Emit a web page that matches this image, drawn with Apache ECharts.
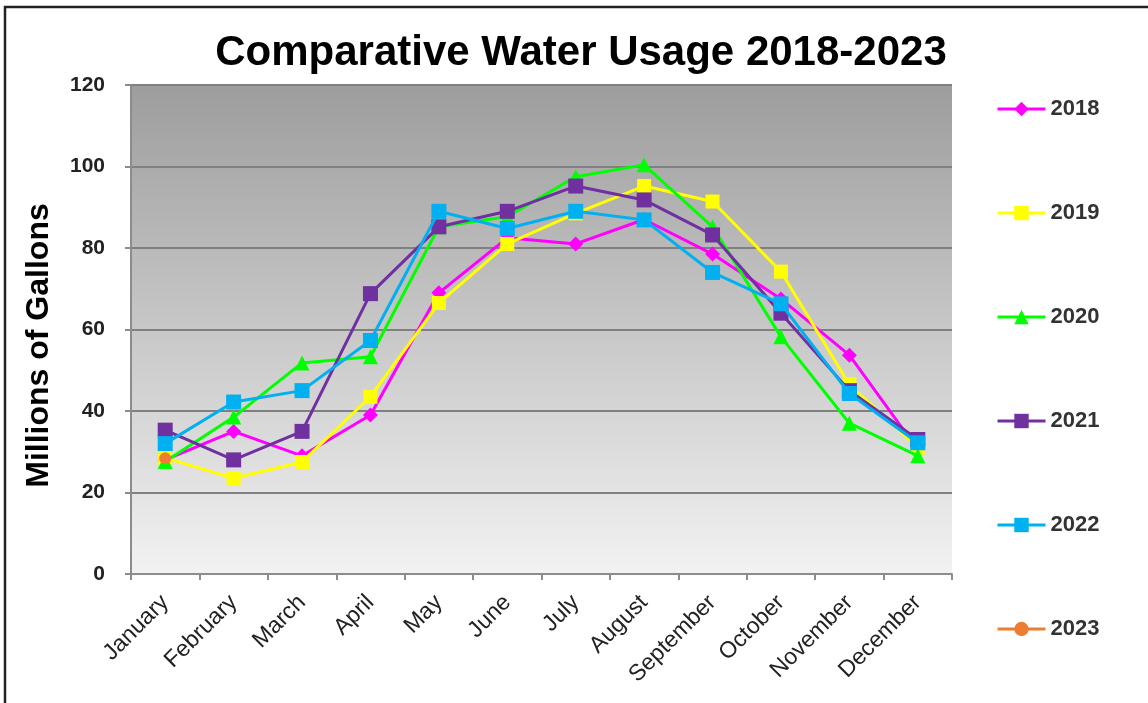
<!DOCTYPE html>
<html style="height: 100%">
<head>
<meta charset="utf-8">
<script src="https://cdn.jsdelivr.net/npm/echarts@6/dist/echarts.min.js"></script>
</head>
<body style="height: 100%; margin: 0; background: #fff">
<div id="container" style="width: 1148px; height: 703px"></div>
<script>
// months on the x axis
var months = ['January', 'February', 'March', 'April', 'May', 'June',
              'July', 'August', 'September', 'October', 'November', 'December'];

// millions of gallons
var y2018 = [28, 35, 29, 39, 69, 82.5, 81, 87, 78.5, 67.5, 53.7, 30.5];
var y2019 = [28.5, 23.5, 27.5, 43.5, 66.5, 81, 88.5, 95.2, 91.4, 74.2, 46.5, 31];
var y2020 = [27.6, 38.5, 51.8, 53.3, 85.2, 87.7, 97.5, 100.4, 85.2, 58.2, 37, 29];
var y2021 = [35.3, 28, 35, 68.8, 85.2, 89, 95.2, 91.8, 83.2, 64, 45, 33];
var y2022 = [32, 42.2, 45, 57.3, 89, 84.8, 89, 86.9, 74, 66.3, 44.3, 32.2];
var y2023 = [28.4];

var years = ['2018', '2019', '2020', '2021', '2022', '2023'];
var yearData = [y2018, y2019, y2020, y2021, y2022, y2023];
var yearColors = ['#ff00ff', '#ffff00', '#00ff00', '#7030a0', '#00b0f0', '#ed7d31'];
var yearSymbols = ['diamond', 'rect', 'triangle', 'rect', 'rect', 'circle'];
var symbolSizes = [15, 14, 15, 15, 15, 12];

var yTicks = [0, 20, 40, 60, 80, 100, 120];

var dom = document.getElementById('container');
var myChart = echarts.init(dom);

var series = years.map(function (y, i) {
    return {
        name: y,
        type: 'line',
        data: yearData[i],
        symbol: yearSymbols[i],
        symbolSize: symbolSizes[i],
        showAllSymbol: true,
        animation: false,
        z: 3 + i,
        lineStyle: { color: yearColors[i], width: 3 },
        itemStyle: { color: yearColors[i] }
    };
});

var option = {
    backgroundColor: '#ffffff',
    animation: false,
    title: {
        text: 'Comparative Water Usage 2018-2023',
        left: 576,
        textAlign: 'center',
        top: 27,
        textStyle: {
            fontFamily: 'Liberation Sans',
            fontWeight: 'bold',
            fontSize: 42,
            color: '#000'
        }
    },
    graphic: [{
        type: 'rect',
        shape: { x: 5, y: 7, width: 1200, height: 800 },
        style: { fill: 'none', stroke: '#222', lineWidth: 2.5 },
        silent: true
    }],
    legend: {
        orient: 'vertical',
        left: 991,
        top: 93,
        itemWidth: 48,
        itemHeight: 18,
        itemGap: 82,
        data: years,
        lineStyle: { width: 3 },
        textStyle: {
            fontFamily: 'Liberation Sans',
            fontWeight: 'bold',
            fontSize: 22,
            color: '#333'
        }
    },
    grid: {
        left: 131,
        right: 196,
        top: 85,
        bottom: 129,
        show: true,
        borderWidth: 0,
        backgroundColor: new echarts.graphic.LinearGradient(0, 0, 0, 1, [
            { offset: 0, color: '#9d9d9d' },
            { offset: 1, color: '#f2f2f2' }
        ])
    },
    xAxis: {
        type: 'category',
        data: months,
        boundaryGap: true,
        axisLine: { lineStyle: { color: '#8c8c8c', width: 2 } },
        axisTick: { show: true, length: 6, lineStyle: { color: '#8c8c8c', width: 2 } },
        axisLabel: {
            rotate: 45,
            margin: 25,
            interval: 0,
            fontFamily: 'Liberation Sans',
            fontSize: 23,
            color: '#222'
        }
    },
    yAxis: {
        type: 'value',
        min: yTicks[0],
        max: yTicks[yTicks.length - 1],
        interval: 20,
        name: 'Millions of Gallons',
        nameLocation: 'middle',
        nameGap: 76,
        nameTextStyle: {
            fontFamily: 'Liberation Sans',
            fontWeight: 'bold',
            fontSize: 32,
            color: '#000',
            padding: [0, 32, 0, 0]
        },
        axisLine: { show: true, lineStyle: { color: '#8c8c8c', width: 2 } },
        axisTick: { show: true, length: 6, lineStyle: { color: '#8c8c8c', width: 2 } },
        axisLabel: {
            margin: 26,
            fontFamily: 'Liberation Sans',
            fontWeight: 'bold',
            fontSize: 21,
            color: '#222'
        },
        splitLine: { lineStyle: { color: '#808080', width: 2 } }
    },
    series: series
};

if (option && typeof option === 'object') {
    myChart.setOption(option);
}
</script>
</body>
</html>
